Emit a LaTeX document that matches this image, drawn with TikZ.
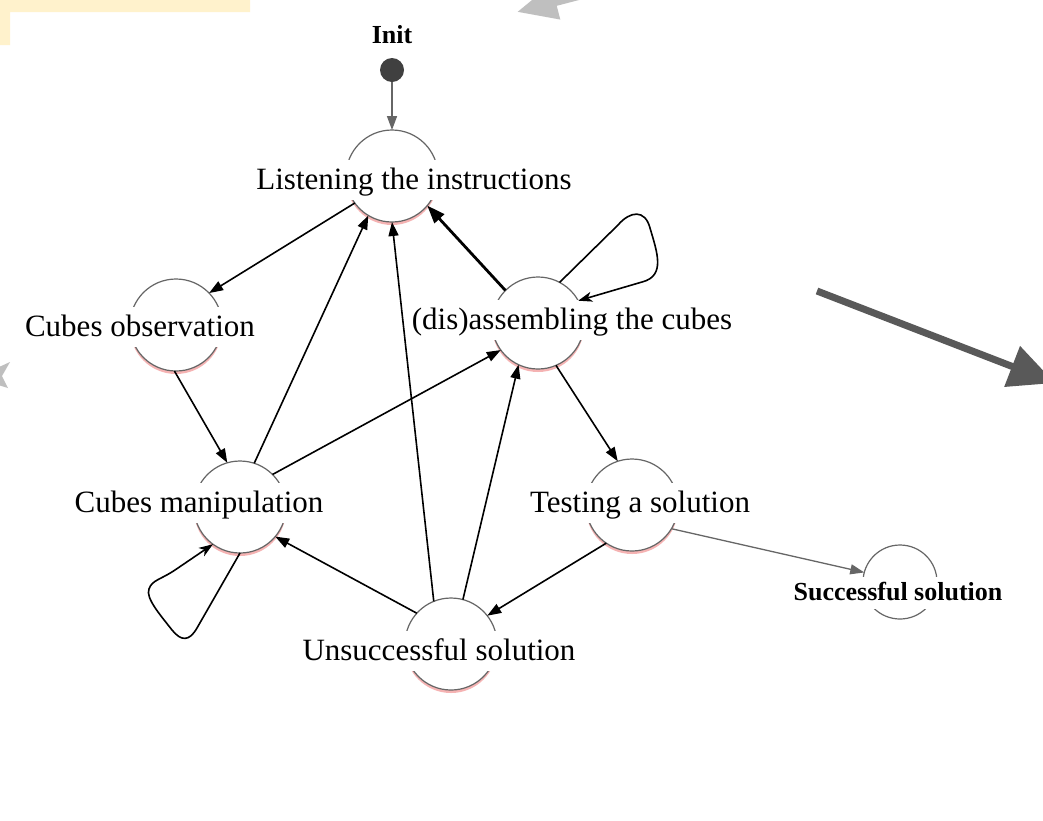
\documentclass[tikz,border=0pt]{standalone}
\usepackage{fontspec}
\setmainfont{Liberation Serif}
\usetikzlibrary{arrows.meta,shadows}
\definecolor{yelbox}{HTML}{FFF2CC}
\definecolor{lightarr}{HTML}{BFBFBF}
\definecolor{darkarr}{HTML}{595959}
\definecolor{ring}{HTML}{666666}
\definecolor{dotc}{HTML}{404040}
\definecolor{glowc}{HTML}{F4A6A6}
\begin{document}
\begin{tikzpicture}[x=1pt,y=-1pt,
  statebox/.style={circle, draw=ring, line width=1.2pt, fill=white, minimum size=92pt, inner sep=0pt, outer sep=0pt,
     general shadow={shadow yshift=-3pt, fill=glowc, opacity=0.85}},
  finalbox/.style={circle, draw=ring, line width=1.2pt, fill=white, minimum size=74pt, inner sep=0pt, outer sep=0pt},
  lab/.style={fill=white, inner xsep=1pt, inner ysep=5pt, text height=24pt, text depth=6pt, anchor=base,
     font=\fontsize{31}{36}\selectfont},
  blab/.style={fill=white, inner xsep=1pt, inner ysep=4pt, text height=19pt, text depth=5pt, anchor=base,
     font=\bfseries\fontsize{26}{30}\selectfont},
  conn/.style={draw=black, line width=1.6pt, -{Triangle[length=14pt,width=10pt]}},
  greyconn/.style={draw=ring, line width=1.5pt, -{Triangle[length=14pt,width=10pt]}},
  loopconn/.style={draw=black, line width=1.6pt, -{Stealth[length=14pt,width=10pt,inset=4pt]}}
]
\useasboundingbox (0,0) rectangle (1043,820);
\fill[white] (0,0) rectangle (1043,820);

% decorative shapes
\fill[yelbox] (0,0) -- (250,0) -- (250,12) -- (10,12) -- (10,45) -- (0,45) -- cycle;
\coordinate (ta) at (690,-33);
\coordinate (tb) at (517,12);
\draw[lightarr, line width=8pt, -{Triangle[length=40pt,width=34pt]}] (ta) -- (tb);
\fill[lightarr] (-25,378) -- (10,362) -- (2,376) -- (8,388) -- cycle;
\coordinate (ra) at (817,291);
\coordinate (rb) at (1055,383);
\draw[darkarr, line width=7pt, -{Triangle[length=46pt,width=42pt]}] (ra) -- (rb);

% states
\node[circle, fill=dotc, minimum size=24pt, inner sep=0pt] (I) at (392,70) {};
\node[statebox] (L) at (392,176) {};
\node[statebox] (O) at (176,325) {};
\node[statebox] (M) at (240,507) {};
\node[statebox] (D) at (538,323) {};
\node[statebox] (T) at (632,505) {};
\node[statebox] (U) at (451,644) {};
\node[finalbox] (S) at (900,582) {};

% labels
\node[blab, fill=none] (Ilab) at (392,43) {Init};
\node[lab] (Llab) at (414,189) {Listening the instructions};
\node[lab] (Olab) at (140,336) {Cubes observation};
\node[lab] (Mlab) at (199,512) {Cubes manipulation};
\node[lab] (Dlab) at (572,329) {(dis)assembling the cubes};
\node[lab] (Tlab) at (640,512) {Testing a solution};
\node[lab] (Ulab) at (439,660) {Unsuccessful solution};
\node[blab] (Slab) at (898,600) {Successful solution};

% connectors
\draw[greyconn] (I) -- (L.90);
\draw[conn] (L.216) -- (O.44);
\draw[conn] (O.268) -- (M.106);
\draw[conn] (M.72) -- (L.239);
\draw[conn] (U.112) -- (L.270);
\draw[draw=black, line width=2.8pt, -{Triangle[length=18pt,width=13pt]}] (D.135) -- (L.320);
\draw[conn] (M.45) -- (D.216);
\draw[conn] (U.75) -- (D.245);
\draw[conn] (D.293) -- (T.108);
\draw[conn] (T.236) -- (U.38);
\draw[conn] (U.138) -- (M.320);
\draw[greyconn, line width=1.3pt] (T.329) -- (S.165);
\draw[loopconn] (D.62) -- (618,225) .. controls (630,211) and (645,209) .. (650,228)
   .. controls (657,252) and (666,276) .. (642,282) -- (D.29);
\draw[loopconn] (M.270) -- (197,628) .. controls (189,642) and (181,641) .. (172,630)
   .. controls (162,617) and (145,598) .. (149,589) .. controls (152,580) and (160,580) .. (175,570) -- (M.234);
\end{tikzpicture}
\end{document}
